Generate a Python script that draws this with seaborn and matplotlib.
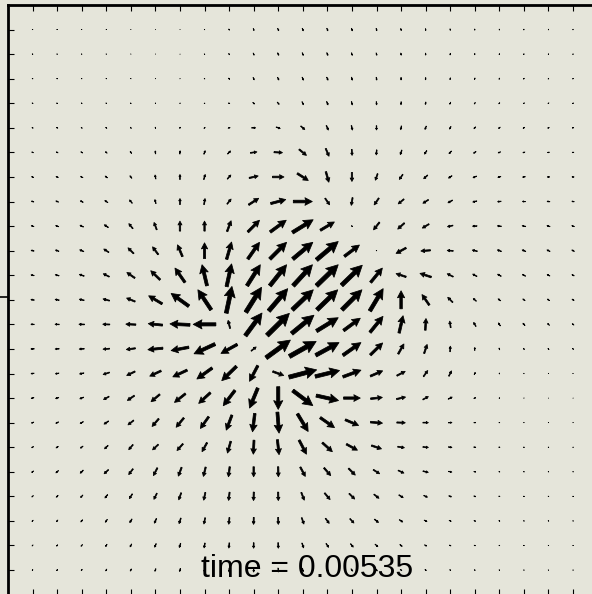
import numpy as np
import matplotlib
matplotlib.use("Agg")
import matplotlib.pyplot as plt
import seaborn as sns

# -----------------------------
# Data: vector field on a 23 x 23 grid (rows listed top -> bottom)
# components in screen pixels, v positive = up
# -----------------------------
x_cols = list(range(23))
y_rows = list(range(22, -1, -1))

u = [
    [-0.6, -0.5, -0.4, -0.3, -0.2, 0, 0.2, 0.4, 0.6, 0.7, 1, 1, 1, 0.8, 0.7, 0.5, 0.3, 0.2, 0, 0, -0.2, -0.2, -0.2],
    [-0.7, -0.6, -0.5, -0.4, -0.2, 0, 0.2, 0.5, 0.7, 0.8, 1, 1, 1, 0.8, 0.6, 0.3, 0, -0.2, -0.3, -0.4, -0.4, -0.4, -0.4],
    [-0.8, -0.7, -0.6, -0.5, -0.3, 0, 0.3, 0.6, 0.9, 1.1, 1.2, 1.2, 1.2, 0.8, 0.5, 0, -0.3, -0.5, -0.6, -0.7, -0.7, -0.7, -0.6],
    [-1, -0.9, -0.8, -0.7, -0.5, -0.2, 0.3, 0.8, 1.3, 1.7, 1.8, 1.5, 1.3, 0.8, 0.3, -0.2, -0.6, -0.9, -1, -1, -1, -1, -0.9],
    [-1.2, -1.2, -1.1, -1, -0.8, -0.3, 0.4, 1.2, 2, 4, 4, 4, 2, 1, 0, -0.8, -1.3, -1.6, -1.7, -1.7, -1.6, -1.5, -1.3],
    [-1.6, -1.7, -1.7, -1.6, -1.3, -0.3, 0.3, 1.3, 3, 6.5, 8.5, 7.3, 3.3, 0.3, -0.5, -1.5, -2.3, -2.5, -2.5, -2.3, -2, -1.8, -1.6],
    [-2, -2.2, -2.3, -2.2, -1.8, -0.7, 0, 1.5, 3.5, 9, 11.5, 11, 3, 0, -2.3, -3.5, -4, -3.5, -3.5, -3, -2.7, -2.3, -2],
    [-2.3, -2.6, -2.8, -3, -2.7, -1, 0, 1, 4, 10, 15, 19, 4.5, -1.3, -4.7, -5.7, -5.5, -4.5, -4, -3.5, -3, -2.7, -2.3],
    [-2.6, -3, -3.4, -4, -4, -2.7, 0, 0, 4, 11.7, 16, 20.7, 14, 0.7, -6, -6.7, -6.7, -5.5, -4.5, -4, -3.5, -3, -2.5],
    [-2.9, -3.4, -4, -5, -5.7, -5.7, -5, 0, 5, 11.7, 16.7, 20, 21.7, 15, 0.5, -10, -9.5, -6, -5, -4, -3.5, -3, -2.5],
    [-3.1, -3.8, -4.8, -6, -8, -9.3, -10, -5, 5, 13.3, 16.7, 19.3, 21.7, 20.7, 11.7, -10, -11.3, -6, -4.2, -3.6, -3.1, -2.6, -2.2],
    [-3.3, -4, -4.8, -6.5, -8.5, -13.5, -17.7, -13.3, 5.7, 15.7, 19, 21, 20.7, 20, 13.3, 0, -7.3, -5, -3, -2.5, -2.2, -2, -2],
    [-3.3, -4.2, -5.5, -7, -10, -14.3, -20, -22.7, -2, 16.7, 22.3, 22.3, 21.7, 16.7, 13, 4, 0.7, -1, -2.3, -2, -2, -1.8, -1.6],
    [-3.3, -4, -5, -6.5, -9, -15, -17.7, -21, -16.3, 5, 24.3, 26.7, 23.3, 18, 12.3, 5.7, 3, 0.3, 0, -0.5, -0.8, -1, -1],
    [-3, -3.5, -4.3, -6.3, -8.3, -11.3, -14.3, -15.3, -14.7, -8.3, 11, 27.7, 24.3, 18, 12.3, 8.3, 4.3, 2.7, 1.2, 0.3, 0, -0.2, -0.3],
    [-2.7, -3.2, -3.8, -5.5, -7, -8.7, -11, -11.7, -11.7, -8.3, 0, 20, 22.3, 16.7, 11.7, 9, 5.5, 4, 1.8, 0.7, 0.3, 0.2, 0.2],
    [-2.3, -2.7, -3.1, -4.5, -5.7, -6.7, -7.7, -8.3, -5.7, -2.3, 1.7, 10.7, 14.3, 13.3, 12, 8.5, 5.5, 3.5, 1.8, 0.9, 0.5, 0.4, 0.4],
    [-1.9, -2.2, -2.6, -3.5, -4.3, -5.7, -6, -5, -3.3, -0.7, 1.7, 7.3, 10, 11, 10, 6.7, 5.5, 3.5, 2, 1.2, 0.8, 0.6, 0.5],
    [-1.8, -2.5, -3, -4.3, -4.3, -4, -3.3, -2.3, -1.3, 0, 0.3, 5, 6.7, 6.7, 6.3, 5.7, 5.3, 3.3, 1.8, 1, 0.7, 0.5, 0.5],
    [-1.5, -1.9, -2.3, -2.7, -3, -3, -2.5, -1.7, -1, -0.3, 0.2, 3, 5.5, 5.5, 5, 4.3, 3.7, 2.7, 1.8, 1.2, 0.8, 0.7, 0.6],
    [-1.2, -1.5, -1.8, -2, -2.2, -2.1, -1.8, -1.3, -0.7, -0.2, 0.2, 2.2, 3.7, 4, 4, 3.3, 2.7, 2, 1.5, 1, 0.7, 0.6, 0.5],
    [-1, -1.2, -1.4, -1.5, -1.6, -1.5, -1.3, -0.9, -0.5, -0.1, 0.2, 1.6, 2.5, 2.7, 2.7, 2.3, 2, 1.5, 1.1, 0.8, 0.6, 0.5, 0.4],
    [-0.7, -0.9, -1, -1.1, -1.1, -1, -0.8, -0.6, -0.3, 0, 0.2, 1, 1.5, 1.7, 1.7, 1.5, 1.3, 1, 0.8, 0.6, 0.5, 0.4, 0.4],
]

v = [
    [0.3, 0.3, 0.3, 0.3, 0.2, 0.2, 0, -0.4, -1.2, -2, -2.3, -2.5, -2.5, -2.5, -2.3, -2, -1.8, -1.5, -1.2, -1, -0.8, -0.7, -0.6],
    [0.3, 0.3, 0.3, 0.3, 0.2, 0.2, 0, -0.5, -1.3, -2.2, -2.5, -2.7, -2.7, -2.6, -2.4, -2.2, -2, -1.6, -1.3, -1, -0.8, -0.7, -0.6],
    [0.4, 0.4, 0.4, 0.4, 0.4, 0.3, 0.1, -0.5, -1.3, -2.3, -2.7, -3, -3, -3, -2.8, -2.5, -2.2, -1.7, -1.4, -1.1, -0.8, -0.7, -0.6],
    [0.5, 0.5, 0.6, 0.6, 0.6, 0.6, 0.5, 0, -0.6, -1.5, -2.3, -3, -3.3, -3.3, -3.2, -3, -2.5, -2, -1.5, -1.1, -0.8, -0.6, -0.5],
    [0.6, 0.7, 0.8, 1, 1.2, 1.3, 1.2, 1, 0.5, 0, -1.5, -3.5, -4.5, -4.5, -4.3, -3.8, -3.3, -2.5, -1.8, -1.2, -0.9, -0.6, -0.4],
    [0.8, 1, 1.2, 1.5, 2, 3, 3.3, 3.5, 3, 1, -0.5, -6, -7.7, -6, -5, -4.5, -3.5, -2.5, -1.7, -1, -0.6, -0.3, -0.2],
    [0.8, 1, 1.3, 1.8, 2.5, 4, 5, 5, 4, 2, 0, -7, -10.5, -9, -6.5, -5, -3.5, -2.3, -1.5, -0.8, -0.3, 0, 0.2],
    [0.9, 1.1, 1.5, 2, 3.3, 4, 6, 6, 5, 6.5, 4, 0, -6.5, -7.7, -6.7, -4.7, -3.5, -2.5, -1, -0.3, 0.2, 0.5, 0.6],
    [0.9, 1.2, 1.7, 2.7, 5, 7.3, 10, 10, 10.7, 11.7, 11.7, 12.7, 8.3, -1, -7.5, -6, -4, -1.2, -0.2, 0.5, 0.8, 1, 1],
    [0.8, 1.2, 1.7, 3.3, 5.7, 7.7, 11.7, 15.7, 17.3, 16.7, 16.7, 16.7, 18.3, 11.3, -0.3, -5.5, -0.7, 0.5, 1.2, 1.5, 1.5, 1.5, 1.3],
    [0.7, 1.1, 1.6, 3, 5.5, 9, 14.3, 21, 22.7, 21, 21, 21, 21, 20, 14.3, 3.3, 3.7, 3, 2.3, 2, 1.8, 1.5, 1.3],
    [0.6, 0.8, 1.1, 1.8, 3.5, 8, 12.7, 20, 26.7, 25, 22.3, 20, 20, 20, 22.3, 18, 10.5, 5, 2.7, 2, 1.7, 1.5, 1.2],
    [0.2, 0.2, 0.2, 0.3, 0.5, 1.5, 1, 0, 8, 22.7, 22, 18.3, 13.3, 12.3, 16, 17.3, 11.7, 6.5, 4, 3, 2.3, 1.8, 1.4],
    [-0.1, -0.2, -0.3, -0.5, -1.2, -1.5, -3.3, -9.7, -9, 4, 17.7, 15, 12.7, 12.7, 12, 10, 9, 5.5, 3, 1.8, 1.3, 1.1, 0.9],
    [-0.4, -0.6, -0.9, -2, -4, -5.3, -6.7, -11, -14.3, -15.7, -4, 7.3, 6, 6.7, 5.3, 4.3, 6, 5.3, 2.2, 1, 0.5, 0.4, 0.3],
    [-0.7, -1, -1.5, -3, -4.8, -7.3, -8.7, -10.7, -15.3, -20, -22.7, -15, -5, 0, 1.3, 2, 3, 2, 0.8, 0.3, 0.1, 0, 0],
    [-0.9, -1.3, -1.8, -3, -4.5, -7.7, -9.3, -11.7, -15, -18.3, -21, -17.7, -10, -5.7, -1, -0.3, 0, 0.2, 0, 0, 0, 0, 0],
    [-1, -1.4, -1.9, -3.3, -5, -5.3, -6.7, -9, -11.7, -14, -15, -14, -9, -6, -3.3, -1, -0.5, -0.5, -0.4, -0.3, -0.2, -0.2, -0.2],
    [-1.5, -2.2, -3, -4, -5.7, -7.7, -8.7, -9.3, -10, -10, -10, -9.3, -7.7, -6.7, -4, -2.7, -1.3, -0.7, -0.5, -0.3, -0.3, -0.3, -0.3],
    [-1.3, -1.8, -2.4, -3.3, -4.7, -6, -7, -7.7, -8.2, -8.5, -8.5, -7.7, -6.5, -5.5, -4, -2.7, -1.7, -1, -0.8, -0.5, -0.4, -0.4, -0.4],
    [-1.2, -1.6, -2.1, -2.8, -3.6, -4.6, -5.5, -6.2, -6.7, -7, -7, -6.3, -5, -4.3, -3.3, -2.3, -1.5, -1, -0.7, -0.5, -0.4, -0.4, -0.4],
    [-1, -1.3, -1.7, -2.2, -2.8, -3.5, -4.2, -4.8, -5.2, -5.5, -5.5, -4.8, -3.8, -3.3, -2.5, -1.8, -1.2, -0.8, -0.6, -0.5, -0.4, -0.4, -0.4],
    [-0.8, -1, -1.3, -1.7, -2.1, -2.6, -3.1, -3.5, -3.8, -4, -4, -3.5, -2.7, -2.3, -1.8, -1.3, -0.9, -0.6, -0.5, -0.4, -0.3, -0.3, -0.3],
]

time_label = "time = 0.00535"

assert all(len(r) == 23 for r in u) and all(len(r) == 23 for r in v)

# -----------------------------
# Style
# -----------------------------
BG = "#e5e5da"
sns.set_theme(style="white", rc={"axes.facecolor": BG, "figure.facecolor": BG})
plt.rcParams["font.family"] = ["Liberation Sans", "DejaVu Sans"]

fig = plt.figure(figsize=(5.92, 5.94), dpi=100)
ax = fig.add_axes([8 / 592, -0.6 / 594, 589.6 / 592, 589.6 / 594])

X, Y = np.meshgrid(x_cols, y_rows)
U = np.array(u)
V = np.array(v)

# px per data unit (grid spacing) so that vector components read as pixels
PX_PER_UNIT = 589.6 / 24

# every arrow is "short" (minshaft*headlength > longest arrow in width units)
# so quiver scales the whole glyph, giving thick shafts/heads on long arrows
ax.quiver(
    X, Y, U, V,
    pivot="middle", angles="xy", scale_units="xy", scale=PX_PER_UNIT,
    units="dots", width=6,
    headwidth=2.9, headlength=2.8, headaxislength=2.5,
    minshaft=2.57, minlength=0,
    color="black", edgecolors="black", linewidths=0.55,
    zorder=3,
)

ax.text(11.16, -0.28, time_label, ha="center", va="baseline",
        fontsize=23, color="black", zorder=2)

ax.set_xlim(-1, 23)
ax.set_ylim(-1, 23)

for side in ["left", "top", "bottom", "right"]:
    ax.spines[side].set_visible(True)
    ax.spines[side].set_color("black")
    ax.spines[side].set_linewidth(2.0)

ax.set_xticks(x_cols)
ax.set_yticks(y_rows)
ax.set_yticks([11.12], minor=True)
ax.tick_params(axis="x", which="major", direction="in", length=4, width=0.8,
               color="black", top=True, bottom=True,
               labelbottom=False, labeltop=False)
ax.tick_params(axis="y", which="major", direction="in", length=4, width=0.8,
               color="black", left=True, right=False, labelleft=False)
ax.tick_params(axis="y", which="minor", direction="out", length=10, width=1.2,
               color="black", left=True, right=False, labelleft=False)
ax.grid(False)

fig.savefig("out.png", dpi=100, facecolor=BG)
